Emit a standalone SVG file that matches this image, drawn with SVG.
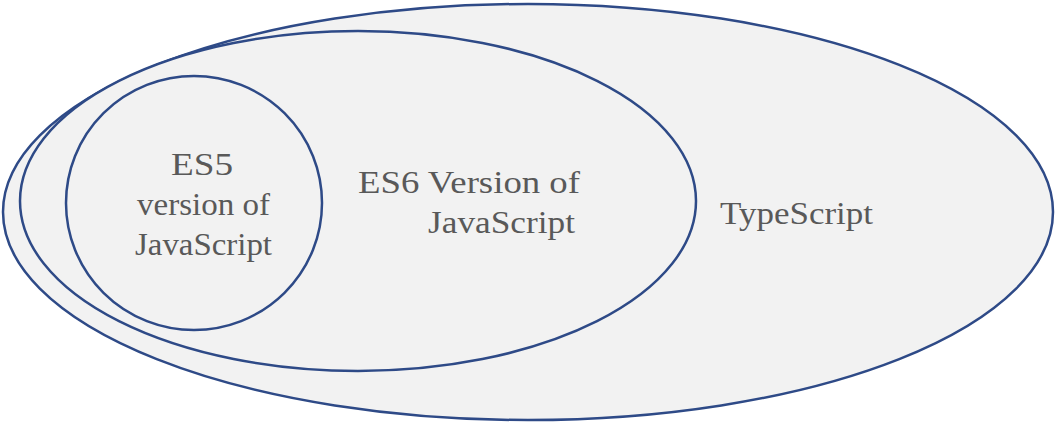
<svg xmlns="http://www.w3.org/2000/svg" width="1060" height="424" viewBox="0 0 1060 424">
<style>
.sh{fill:#f2f2f2;stroke:#2e4a87;stroke-width:2.5}
.t{font-family:"Liberation Serif","Times New Roman","DejaVu Serif",serif;font-size:31px;fill:#595959}
</style>
<rect width="1060" height="424" fill="#fff"/>
<g id="typescript"><ellipse class="sh" cx="528" cy="212" rx="525" ry="208"/>
<text class="t" x="720" y="224" textLength="153" lengthAdjust="spacingAndGlyphs">TypeScript</text></g>
<g id="es6"><ellipse class="sh" cx="358" cy="201" rx="338" ry="170"/>
<text class="t" x="358" y="193" textLength="222" lengthAdjust="spacingAndGlyphs">ES6 Version of</text>
<text class="t" x="428" y="233" textLength="147" lengthAdjust="spacingAndGlyphs">JavaScript</text></g>
<g id="es5"><ellipse class="sh" cx="194" cy="203" rx="128" ry="127"/>
<text class="t" x="171" y="175" font-size="28" textLength="62" lengthAdjust="spacingAndGlyphs">ES5</text>
<text class="t" x="137" y="215" font-size="28" textLength="133" lengthAdjust="spacingAndGlyphs">version of</text>
<text class="t" x="135" y="255" font-size="28" textLength="137" lengthAdjust="spacingAndGlyphs">JavaScript</text></g>
<g id="connectors"/>
</svg>
